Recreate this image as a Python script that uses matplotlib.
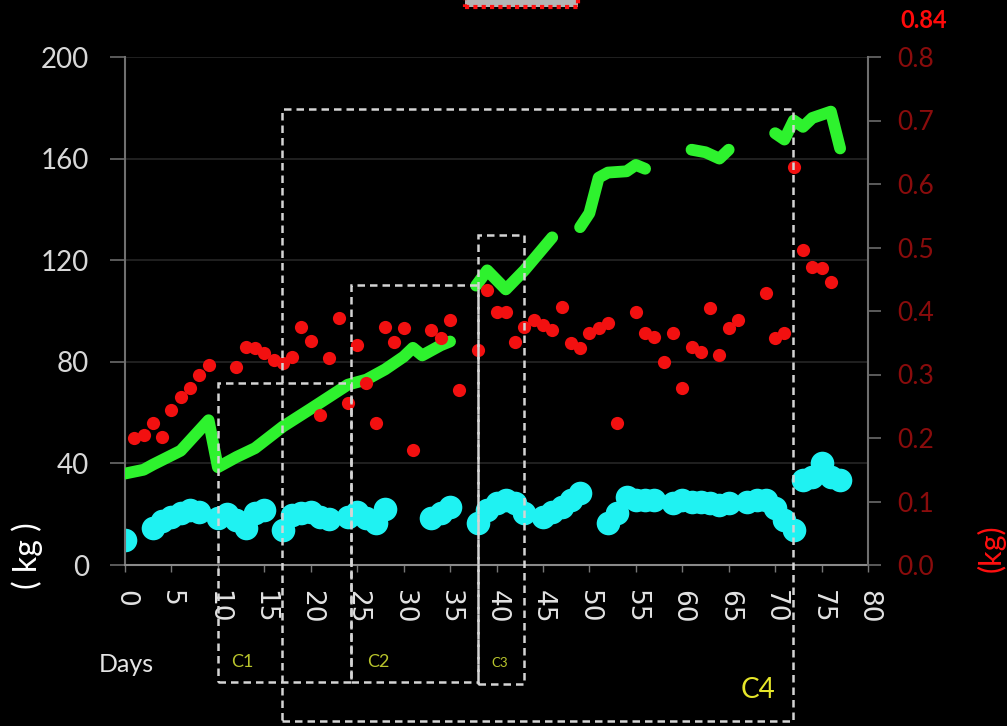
import numpy as np
import matplotlib
matplotlib.use("Agg")
import matplotlib.pyplot as plt
from matplotlib.patches import Rectangle

plt.rcParams["font.family"] = ["Lato", "DejaVu Sans"]

W, H = 1007, 726
nan = np.nan

# body weight (left axis, kg) -- gaps where no weighing was done
green_days = [0, 2, 3, 6, 9, 10, 12, 14, 17, 20, 24, 26, 28, 30, 31, 32, 34, 35, 36.5,
              37.8, 39, 41, 43, 46, 47.5,
              49, 50, 51, 52, 54, 55, 56, 58.5,
              61, 62.5, 64, 65, 67.5,
              70, 71, 72, 73, 74, 76, 77]
green_kg = [36, 37.5, 39.5, 45, 57, 38.5, 42.5, 46, 54.5, 61.5, 71, 73, 77, 82, 85.5, 82.5, 86.5, 88, nan,
            110, 116, 108.5, 116, 129, nan,
            133, 138.5, 152.5, 154.5, 155, 157.5, 156, nan,
            163.5, 162.5, 160, 163.5, nan,
            170, 167.5, 175, 172.5, 176, 178.5, 164]

# feed intake (left axis, kg)
cyan_days = [0, 3, 4, 5, 6, 7, 8, 10, 11, 12, 13, 14, 15, 17, 18, 19, 20, 21, 22,
             24, 25, 26, 27, 28, 33, 34, 35, 38, 39, 40, 41, 42, 43, 45, 46, 47, 48, 49,
             52, 53, 54, 55, 56, 57, 59, 60, 61, 62, 63, 64, 65, 67, 68, 69, 70, 71, 72,
             73, 74, 75, 76, 77]
cyan_kg = [10, 14.5, 17.5, 19, 20.5, 21.7, 21, 18.5, 20, 17.7, 14.5, 20.5, 21.7, 13.8, 19.5, 20.5, 21, 19, 18,
           19, 21, 18.5, 16.5, 22, 18.5, 20.5, 22.8, 16.5, 21.7, 24.4, 25.6, 24.4, 20.5, 19, 21, 22.8, 25.6, 28.3,
           16.5, 20.5, 26.8, 25.6, 25.6, 25.6, 24.4, 25.6, 24.8, 24.8, 24.4, 23.6, 24.4, 24.8, 25.6, 25.6, 22.4, 17.7, 13.8,
           33.5, 34.6, 40.2, 34.6, 33.5]

# daily gain (right axis, kg)
red_days = [1, 2, 3, 4, 5, 6, 7, 8, 9, 12, 13, 14, 15, 16, 17, 18, 19, 20, 21, 22, 23, 24,
            25, 26, 27, 28, 29, 30, 31, 33, 34, 35, 36, 38, 39, 40, 41, 42, 43, 44, 45, 46,
            47, 48, 49, 50, 51, 52, 53, 55, 56, 57, 58, 59, 60, 61, 62, 63, 64, 65, 66,
            69, 70, 71, 72, 73, 74, 75, 76]
red_kg = [0.200, 0.205, 0.224, 0.202, 0.244, 0.265, 0.279, 0.299, 0.315, 0.312, 0.343, 0.342, 0.334,
          0.323, 0.318, 0.328, 0.375, 0.352, 0.236, 0.326, 0.389, 0.255,
          0.346, 0.287, 0.224, 0.375, 0.351, 0.373, 0.181, 0.370, 0.357, 0.386, 0.276, 0.339, 0.433,
          0.398, 0.398, 0.351, 0.375, 0.386, 0.378, 0.370,
          0.406, 0.350, 0.342, 0.365, 0.373, 0.381, 0.224, 0.398, 0.365, 0.359, 0.320, 0.365, 0.279,
          0.343, 0.335, 0.405, 0.331, 0.373, 0.386,
          0.428, 0.357, 0.365, 0.627, 0.496, 0.469, 0.468, 0.446]

day_ticks = list(range(0, 81, 5))
left_ticks = [0, 40, 80, 120, 160, 200]
right_ticks = [0.0, 0.1, 0.2, 0.3, 0.4, 0.5, 0.6, 0.7, 0.8]

# period boxes: (day from, day to, kg bottom, kg top)
periods = {
    "C1": (10.0, 24.3, -46, 71.7),
    "C2": (24.3, 38.0, -46, 110.2),
    "C3": (38.0, 43.0, -47, 129.9),
    "C4": (16.9, 71.9, -61.5, 179.5),
}


def fx(px):
    return px / W


def fy(py):
    return 1 - py / H


fig = plt.figure(figsize=(W / 100, H / 100), dpi=100, facecolor="black")
ax = fig.add_axes([fx(125), fy(565), fx(868 - 125), (565 - 57) / H])
ax.set_facecolor("black")
ax2 = ax.twinx()

ax.plot(cyan_days, cyan_kg, "o", color="#1ff2f2", ms=17, mew=0, zorder=2)
ax.plot(green_days, green_kg, "-", color="#2ef22e", lw=8.5,
        solid_capstyle="round", solid_joinstyle="round", zorder=3)
ax2.plot(red_days, red_kg, "o", color="#f21010", ms=9.5, mew=0, zorder=3)

ax.set_xlim(0, 80)
ax.set_ylim(0, 200)
ax2.set_ylim(0, 0.8)

ax.set_xticks(day_ticks)
ax.set_xticklabels([str(d) for d in day_ticks], rotation=-90,
                   family=["DejaVu Sans"], fontsize=19, color="#e2e2e2")
ax.set_yticks(left_ticks)
ax.set_yticklabels([str(v) for v in left_ticks], fontsize=20, color="#d8d8d8")
ax2.set_yticks(right_ticks)
ax2.set_yticklabels([f"{v:.1f}" for v in right_ticks], fontsize=19, color="#8a0c0c")

ax.tick_params(axis="x", direction="out", length=5, width=1, color="#777777", pad=13)
ax.tick_params(axis="y", direction="out", length=11, width=1.2, color="#6a6a6a", pad=15)
ax2.tick_params(axis="y", direction="out", length=9, width=1.2, color="#6a6a6a", pad=12)

ax.yaxis.grid(True, color="#262626", lw=1.2)
ax.set_axisbelow(True)
for side in ("top", "right"):
    ax.spines[side].set_visible(False)
ax.spines["left"].set_color("#6f6f6f")
ax.spines["bottom"].set_color("#8a8a8a")
ax.spines["left"].set_linewidth(1.5)
ax.spines["bottom"].set_linewidth(1.5)
for side in ("top", "left", "bottom"):
    ax2.spines[side].set_visible(False)
ax2.spines["right"].set_color("#6f6f6f")
ax2.spines["right"].set_linewidth(1.5)

# dashed period boxes, drawn over the data and below the axis
for name, (x0, x1, y0, y1) in periods.items():
    ax2.add_artist(Rectangle((x0, y0), x1 - x0, y1 - y0, transform=ax.transData,
                             fill=False, ec="#d4d4d4", lw=1.8, ls=(0, (3, 2)),
                             clip_on=False, zorder=5))

fig.text(fx(242), fy(662), "C1", color="#b8c42c", fontsize=13, ha="center", va="center")
fig.text(fx(378), fy(662), "C2", color="#b8c42c", fontsize=13, ha="center", va="center")
fig.text(fx(500), fy(663), "C3", color="#b8c42c", fontsize=9.5, ha="center", va="center")
fig.text(fx(758), fy(690), "C4", color="#e6e62a", fontsize=20, ha="center", va="center")
fig.text(fx(126), fy(664), "Days", color="#e4e4e4", fontsize=18, ha="center", va="center")

fig.text(fx(27), fy(556), "( kg )", color="white", fontsize=23, rotation=90,
         ha="center", va="center")
fig.text(fx(991), fy(548), "(kg)", color="#ff1010", fontsize=22, rotation=90,
         ha="center", va="center")
fig.text(fx(924), fy(20), "0.84", color="#ff0a0a", fontsize=17, fontweight="bold",
         ha="center", va="center")

# small marker box cut by the top edge
fig.patches.append(Rectangle((fx(465), fy(7)), fx(578 - 465), 30 / H,
                             transform=fig.transFigure, fc="#b4b4b4", ec="#ff1010",
                             lw=3, ls=(0, (1, 1))))

fig.savefig("out.png", dpi=100, facecolor="black")
